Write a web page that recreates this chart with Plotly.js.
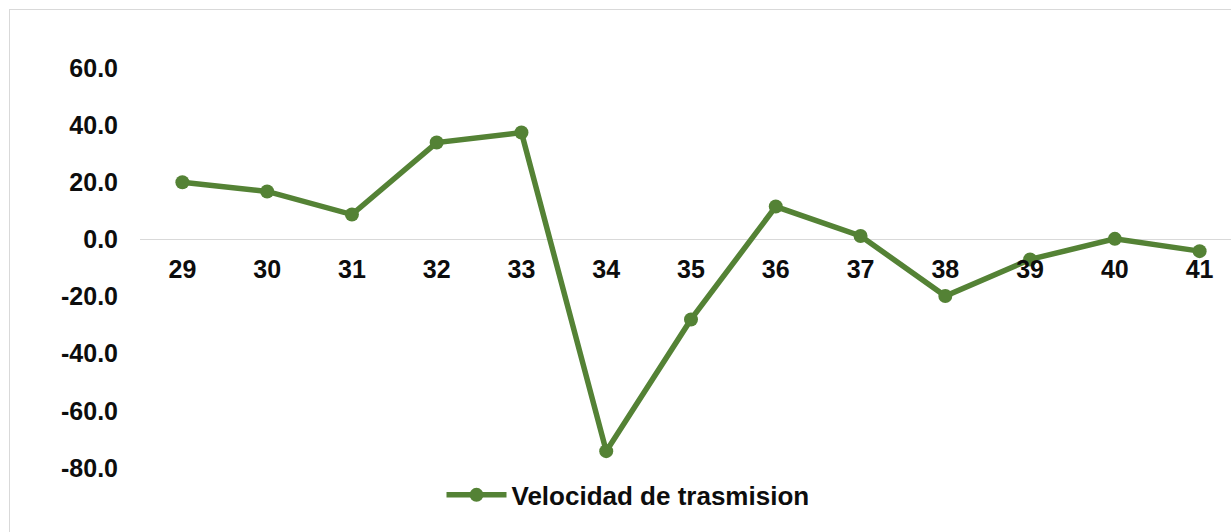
<!DOCTYPE html>
<html>
<head>
<meta charset="utf-8">
<script src="https://cdn.plot.ly/plotly-3.0.1.min.js"></script>
<style>
  html, body { margin: 0; padding: 0; width: 1231px; height: 532px; overflow: hidden; background: #ffffff; }
  #frame { position: absolute; left: 9px; top: 9px; width: 1260px; height: 560px; border: 1px solid #d9d9d9; background: #ffffff; }
  #chart { position: absolute; left: 0; top: 0; width: 1260px; height: 532px; }
</style>
</head>
<body>
<div id="frame"></div>
<div id="chart"></div>
<script>
const weeks = ["29", "30", "31", "32", "33", "34", "35", "36", "37", "38", "39", "40", "41"];
const velocidad = [20.0, 16.8, 8.7, 33.9, 37.4, -74.1, -28.0, 11.5, 1.2, -19.8, -7.0, 0.2, -4.1];
const seriesName = "Velocidad de trasmision";
const yTicks = [-80, -60, -40, -20, 0, 20, 40, 60];
const yTickText = ["-80.0", "-60.0", "-40.0", "-20.0", "0.0", "20.0", "40.0", "60.0"];

const yMin = -84.2, yMax = 69.8;
const green = "#548235";
const tickFont = { family: "Liberation Sans, Arial, sans-serif", size: 25, color: "#0d0d0d", weight: "bold" };
const legendFont = { family: "Liberation Sans, Arial, sans-serif", size: 26, color: "#0d0d0d", weight: "bold" };

const trace = {
  x: weeks,
  y: velocidad,
  name: seriesName,
  type: "scatter",
  mode: "lines+markers",
  line: { color: green, width: 5.5 },
  marker: { color: green, size: 14 },
  cliponaxis: false,
  showlegend: true
};

const layout = {
  width: 1260,
  height: 532,
  margin: { l: 140, r: 18, t: 40, b: 52 },
  paper_bgcolor: "rgba(0,0,0,0)",
  plot_bgcolor: "rgba(0,0,0,0)",
  showlegend: true,
  xaxis: {
    type: "category",
    categoryorder: "array",
    categoryarray: weeks,
    range: [-0.5, weeks.length - 0.5],
    anchor: "free",
    position: (0 - yMin) / (yMax - yMin),
    showgrid: false,
    showline: false,
    zeroline: false,
    ticks: "",
    ticklabelstandoff: 13,
    tickfont: tickFont,
    fixedrange: true
  },
  yaxis: {
    range: [yMin, yMax],
    tickvals: yTicks,
    ticktext: yTickText,
    showgrid: false,
    showline: false,
    zeroline: true,
    zerolinecolor: "#d9d9d9",
    zerolinewidth: 1,
    ticks: "",
    ticklabelstandoff: 21,
    tickfont: tickFont,
    fixedrange: true
  },
  legend: {
    orientation: "h",
    x: (628 - 140) / (1260 - 140 - 18),
    xanchor: "center",
    y: -0.034,
    yanchor: "middle",
    font: legendFont,
    bgcolor: "rgba(0,0,0,0)",
    itemwidth: 60
  }
};

Plotly.newPlot("chart", [trace], layout, { displayModeBar: false, staticPlot: true });
</script>
</body>
</html>
